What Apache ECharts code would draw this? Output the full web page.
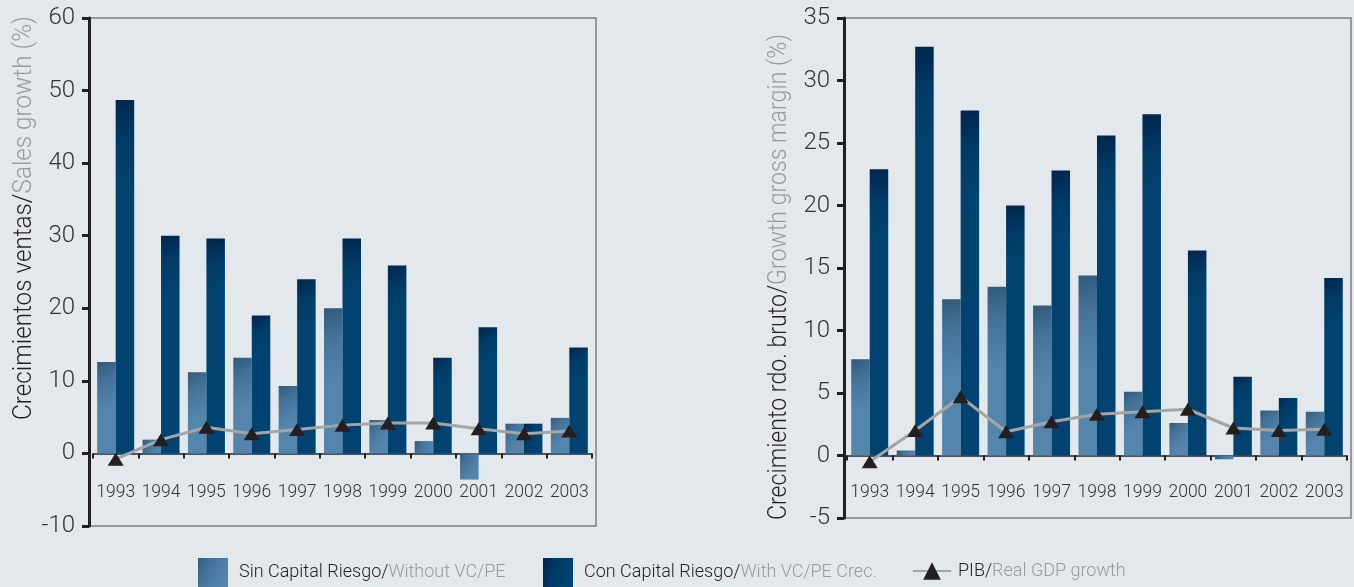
<!DOCTYPE html>
<html>
<head>
<meta charset="utf-8">
<script src="https://cdn.jsdelivr.net/npm/echarts@6/dist/echarts.min.js"></script>
<style>
html,body{margin:0;padding:0;background:#e2e8ec;}
#c{width:1354px;height:587px;}
</style>
</head>
<body>
<div id="c"></div>
<script>
const years = ['1993','1994','1995','1996','1997','1998','1999','2000','2001','2002','2003'];
const salesWithout = [12.6, 1.9, 11.2, 13.2, 9.3, 20.0, 4.6, 1.7, -3.6, 4.1, 4.9];
const salesWith    = [48.7, 30.0, 29.6, 19.0, 24.0, 29.6, 25.9, 13.2, 17.4, 4.1, 14.6];
const salesGDP     = [-0.8, 1.9, 3.6, 2.7, 3.3, 3.9, 4.2, 4.2, 3.4, 2.7, 3.1];
const marginWithout = [7.7, 0.4, 12.5, 13.5, 12.0, 14.4, 5.1, 2.6, -0.3, 3.6, 3.5];
const marginWith    = [22.9, 32.7, 27.6, 20.0, 22.8, 25.6, 27.3, 16.4, 6.3, 4.6, 14.2];
const marginGDP     = [-0.5, 2.0, 4.7, 1.9, 2.7, 3.3, 3.5, 3.7, 2.2, 2.0, 2.1];
const leftTicks = {min: -10, max: 60, interval: 10};
const rightTicks = {min: -5, max: 35, interval: 5};

const FONT = "Roboto, 'Liberation Sans', sans-serif";
const DARK = '#231f20';
const GREY = '#9a9a9a';
const nameA = 'Sin Capital Riesgo/Without VC/PE';
const nameB = 'Con Capital Riesgo/With VC/PE Crec.';
const nameC = 'PIB/Real GDP growth';

const G = echarts.graphic;
const lightColor = new G.LinearGradient(0, 0, 1, 0.5, [
  {offset: 0, color: '#2f5b7c'},
  {offset: 0.4, color: '#44739a'},
  {offset: 1, color: '#5486ad'}
]);
const darkColor = new G.LinearGradient(0, 0, 1, 0.25, [
  {offset: 0, color: '#00264e'},
  {offset: 0.45, color: '#003b67'},
  {offset: 1, color: '#004370'}
]);

function xAxis(gi, margin) {
  return {
    type: 'category', gridIndex: gi, data: years,
    axisLine: {onZero: true, lineStyle: {color: DARK, width: 1.5}},
    axisTick: {show: true, length: 5, lineStyle: {color: DARK, width: 2}},
    axisLabel: {interval: 0, margin: margin, fontFamily: FONT, fontWeight: 300, fontSize: 17.5, color: '#333'}
  };
}
function yAxis(gi, t, off) {
  return {
    type: 'value', gridIndex: gi, min: t.min, max: t.max, interval: t.interval, offset: off,
    splitLine: {show: false},
    axisLine: {show: true, onZero: false, lineStyle: {color: DARK, width: 3}},
    axisTick: {show: true, length: 7, lineStyle: {color: DARK, width: 3}},
    axisLabel: {margin: 14, fontFamily: FONT, fontWeight: 300, fontSize: 24, color: '#333'}
  };
}
function bars(name, gi, data, color) {
  return {
    name: name, type: 'bar', xAxisIndex: gi, yAxisIndex: gi, data: data,
    barWidth: 18.5, barGap: '0%', itemStyle: {color: color}
  };
}
function line(gi, data) {
  return {
    name: nameC, type: 'line', xAxisIndex: gi, yAxisIndex: gi, data: data,
    symbol: 'triangle', symbolSize: [16, 13], z: 5,
    lineStyle: {color: '#a5a5a5', width: 3},
    itemStyle: {color: DARK}
  };
}
const richText = {
  a: {fontFamily: FONT, fontWeight: 300, fontSize: 18, color: DARK},
  b: {fontFamily: FONT, fontWeight: 300, fontSize: 18, color: GREY}
};
function legend(name, left, extra) {
  return Object.assign({
    data: [name], left: left, top: 558, padding: 0, itemWidth: 30, itemHeight: 29, itemGap: 0,
    icon: 'rect',
    formatter: function (n) {
      const i = n.indexOf('/');
      return '{a|' + n.slice(0, i + 1) + '}{b|' + n.slice(i + 1) + '}';
    },
    textStyle: {rich: richText, padding: [0, 0, 0, 6]},
    selectedMode: false
  }, extra || {});
}
const titleRich = {
  a: {fontFamily: FONT, fontWeight: 300, fontSize: 25, fill: DARK},
  b: {fontFamily: FONT, fontWeight: 300, fontSize: 25, fill: GREY}
};

const chart = echarts.init(document.getElementById('c'), null, {renderer: 'canvas'});
chart.setOption({
  backgroundColor: '#e2e8ec',
  animation: false,
  grid: [
    {left: 93, top: 18, width: 499, height: 508},
    {left: 847, top: 18, width: 500, height: 500}
  ],
  xAxis: [xAxis(0, -42), xAxis(1, -34)],
  yAxis: [yAxis(0, leftTicks, 4), yAxis(1, rightTicks, 3)],
  legend: [
    legend(nameA, 198),
    legend(nameB, 543),
    legend(nameC, 912, {icon: null, top: 562, itemWidth: 38, itemHeight: 22, textStyle: {rich: richText, padding: [0, 0, 0, 2]}})
  ],
  series: [
    bars(nameA, 0, salesWithout, lightColor),
    bars(nameB, 0, salesWith, darkColor),
    line(0, salesGDP),
    bars(nameA, 1, marginWithout, lightColor),
    bars(nameB, 1, marginWith, darkColor),
    line(1, marginGDP)
  ],
  graphic: [
    {
      type: 'rect', z: -1, silent: true,
      shape: {x: 89, y: 18, width: 507, height: 508},
      style: {fill: 'none', stroke: '#7d7d7d', lineWidth: 1.5}
    },
    {
      type: 'rect', z: -1, silent: true,
      shape: {x: 844, y: 18, width: 507, height: 500},
      style: {fill: 'none', stroke: '#7d7d7d', lineWidth: 1.5}
    },
    {
      type: 'text', x: 25, y: 218, rotation: Math.PI / 2, scaleX: 0.97,
      style: {
        text: '{a|Crecimientos ventas/}{b|Sales growth (%)}',
        rich: titleRich, align: 'center', verticalAlign: 'middle'
      }
    },
    {
      type: 'text', x: 780, y: 277, rotation: Math.PI / 2, scaleX: 0.925,
      style: {
        text: '{a|Crecimiento rdo. bruto/}{b|Growth gross margin (%)}',
        rich: titleRich, align: 'center', verticalAlign: 'middle'
      }
    }
  ]
});
</script>
</body>
</html>
